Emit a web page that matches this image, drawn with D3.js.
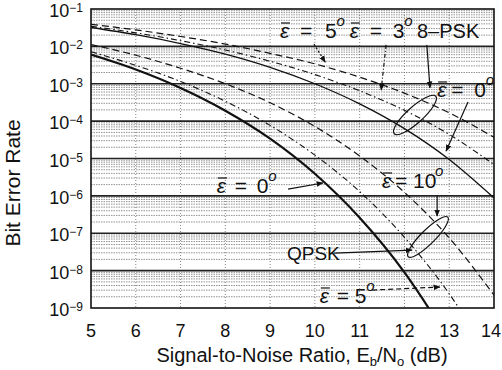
<!DOCTYPE html>
<html>
<head>
<meta charset="utf-8">
<script src="https://cdn.jsdelivr.net/npm/d3@7"></script>
<style>
    body { margin: 0; background: #fff; }
    svg text { font-family: "Liberation Sans", Arial, sans-serif; fill: #111; }
    .note { font-family: "Liberation Serif", "DejaVu Serif", serif; font-size: 21px; }
    .note .eps { font-style: italic; }
</style>
</head>
<body>
<div id="chart"></div>
<script>
// Eb/No values (dB)
const snr = [5, 6, 7, 8, 9, 10, 11, 12, 13, 14];

// QPSK, phase error 0, 5, 10 deg
const qpskE0 = [6.0e-3, 2.4e-3, 7.7e-4, 1.9e-4, 3.4e-5, 3.9e-6, 2.6e-7, 9.0e-9, 1.3e-10, 1e-12];
const qpskE5 = [7.2e-3, 3.1e-3, 1.15e-3, 3.4e-4, 7.7e-5, 1.23e-5, 1.3e-6, 7.8e-8, 2.4e-9, 3e-11];
const qpskE10 = [1.12e-2, 5.8e-3, 2.6e-3, 1.0e-3, 3.1e-4, 7.2e-5, 1.17e-5, 1.24e-6, 7.5e-8, 2.2e-9];

// 8-PSK, phase error 0, 3, 5 deg
const psk8E0 = [3.2e-2, 2.05e-2, 1.19e-2, 6.2e-3, 2.75e-3, 1.0e-3, 2.9e-4, 6.3e-5, 9.4e-6, 8.8e-7];
const psk8E3 = [3.45e-2, 2.3e-2, 1.42e-2, 8.0e-3, 4.0e-3, 1.76e-3, 6.5e-4, 1.94e-4, 4.4e-5, 6.9e-6];
const psk8E5 = [3.9e-2, 2.76e-2, 1.84e-2, 1.15e-2, 6.5e-3, 3.4e-3, 1.5e-3, 5.6e-4, 1.67e-4, 3.7e-5];

// tick labels
const xTicks = [5, 6, 7, 8, 9, 10, 11, 12, 13, 14];
const yExps = [-1, -2, -3, -4, -5, -6, -7, -8, -9];

const margin = { top: 9, right: 8, bottom: 62, left: 91 };
const width = 502 - margin.left - margin.right;
const height = 370 - margin.top - margin.bottom;

const root = d3.select("#chart")
    .append("svg")
    .attr("width", 502)
    .attr("height", 370);

const svg = root.append("g")
    .attr("transform", `translate(${margin.left}, ${margin.top})`);

const x = d3.scaleLinear().domain([5, 14]).range([0, width]);
const y = d3.scaleLog().domain([1e-9, 1e-1]).range([height, 0]);

// minor horizontal grid (2..9 x 10^k)
const minor = [];
for (let k = -9; k < -1; k++) {
    for (let m = 2; m <= 9; m++) minor.push(m * Math.pow(10, k));
}
svg.append("g")
    .selectAll("line")
    .data(minor)
    .join("line")
    .attr("x1", 0).attr("x2", width)
    .attr("y1", d => y(d)).attr("y2", d => y(d))
    .attr("stroke", "#777")
    .attr("stroke-width", 0.8)
    .attr("stroke-dasharray", "1.5,1");

// vertical dotted grid
svg.append("g")
    .selectAll("line")
    .data(xTicks.slice(1, -1))
    .join("line")
    .attr("x1", d => x(d)).attr("x2", d => x(d))
    .attr("y1", 0).attr("y2", height)
    .attr("stroke", "#666")
    .attr("stroke-width", 0.8)
    .attr("stroke-dasharray", "1,2");

// decade lines
svg.append("g")
    .selectAll("line")
    .data(yExps.slice(1, -1))
    .join("line")
    .attr("x1", 0).attr("x2", width)
    .attr("y1", d => y(Math.pow(10, d))).attr("y2", d => y(Math.pow(10, d)))
    .attr("stroke", "#222")
    .attr("stroke-width", 1.6);

// curves
svg.append("clipPath").attr("id", "clip")
    .append("rect").attr("width", width).attr("height", height);

const series = [
    { values: psk8E5, dash: "7,4", w: 1.2 },
    { values: psk8E3, dash: "6,3,1.5,3", w: 1.1 },
    { values: psk8E0, dash: null, w: 1.3 },
    { values: qpskE10, dash: "7,4", w: 1.2 },
    { values: qpskE5, dash: "6,3,1.5,3", w: 1.1 },
    { values: qpskE0, dash: null, w: 2.2 }
];

const line = d3.line()
    .curve(d3.curveMonotoneX)
    .x(d => x(d[0]))
    .y(d => y(d[1]));

svg.append("g")
    .attr("clip-path", "url(#clip)")
    .selectAll("path")
    .data(series)
    .join("path")
    .attr("fill", "none")
    .attr("stroke", "#111")
    .attr("stroke-width", d => d.w)
    .attr("stroke-dasharray", d => d.dash)
    .attr("d", d => line(snr.map((s, i) => [s, d.values[i]])));

// frame
svg.append("rect")
    .attr("width", width).attr("height", height)
    .attr("fill", "none").attr("stroke", "#111").attr("stroke-width", 1.6);

// y tick labels
const yl = svg.append("g").selectAll("text")
    .data(yExps)
    .join("text")
    .attr("font-size", 18)
    .attr("x", -8)
    .attr("y", d => y(Math.pow(10, d)) + 8)
    .attr("text-anchor", "end");
yl.append("tspan").text("10");
yl.append("tspan").attr("dy", -5).attr("font-size", 12).text(d => "\u2212" + (-d));

// x tick labels (last one nudged in so it stays inside the page)
svg.append("g").selectAll("text")
    .data(xTicks)
    .join("text")
    .attr("font-size", 18)
    .attr("x", d => Math.min(x(d), width - 3))
    .attr("y", height + 29)
    .attr("text-anchor", "middle")
    .text(d => d);

// x title
const xt = root.append("text")
    .attr("font-size", 20)
    .attr("x", 302)
    .attr("y", 362)
    .attr("text-anchor", "middle");
xt.append("tspan").text("Signal-to-Noise Ratio, E");
xt.append("tspan").attr("dy", 4).attr("font-size", 13).text("b");
xt.append("tspan").attr("dy", -4).text("/N");
xt.append("tspan").attr("dy", 4).attr("font-size", 13).text("o");
xt.append("tspan").attr("dy", -4).text(" (dB)");

// y title
root.append("text")
    .attr("font-size", 21)
    .attr("transform", "translate(20, 183) rotate(-90)")
    .attr("text-anchor", "middle")
    .text("Bit Error Rate");

// annotations, positioned in data units
const P = (sx, e) => [x(sx), y(Math.pow(10, e))];

root.append("defs").append("marker")
    .attr("id", "arr")
    .attr("viewBox", "0 0 10 10")
    .attr("refX", 9).attr("refY", 5)
    .attr("markerWidth", 7).attr("markerHeight", 7)
    .attr("markerUnits", "userSpaceOnUse")
    .attr("orient", "auto")
    .append("path").attr("d", "M0,1L10,5L0,9Z").attr("fill", "#111");

function eps(sx, e, deg, gEq, gNum) {
    const [px, py] = P(sx, e);
    const g = svg.append("g").attr("class", "note");
    g.append("text").attr("class", "eps").attr("x", px).attr("y", py).text("\u03b5");
    g.append("line")
        .attr("x1", px + 1).attr("x2", px + 10)
        .attr("y1", py - 15).attr("y2", py - 15)
        .attr("stroke", "#111").attr("stroke-width", 1.2);
    g.append("text").attr("x", px + gEq).attr("y", py).text("=");
    g.append("text").attr("x", px + gNum).attr("y", py).text(deg);
    g.append("text").attr("class", "eps")
        .attr("x", px + gNum + String(deg).length * 10.5 + 1)
        .attr("y", py - 12).attr("font-size", 15).text("o");
}

function arrow(a, b, dash) {
    svg.append("line")
        .attr("x1", a[0]).attr("y1", a[1]).attr("x2", b[0]).attr("y2", b[1])
        .attr("stroke", "#111").attr("stroke-width", 1.2)
        .attr("stroke-dasharray", dash || null)
        .attr("marker-end", "url(#arr)");
}

function ellipse(sx, e, rx, ry, rot) {
    const [px, py] = P(sx, e);
    svg.append("ellipse")
        .attr("cx", px).attr("cy", py).attr("rx", rx).attr("ry", ry)
        .attr("transform", `rotate(${rot}, ${px}, ${py})`)
        .attr("fill", "none").attr("stroke", "#111").attr("stroke-width", 1.2);
}

// 8-PSK group
eps(9.22, -1.776, 5, 20, 45);
eps(10.78, -1.776, 3, 20, 43);
svg.append("text").attr("font-size", 20)
    .attr("x", x(12.28)).attr("y", y(Math.pow(10, -1.776))).text("8\u2013PSK");
arrow(P(9.98, -1.94), P(10.23, -2.42), "2,2");
arrow(P(11.59, -1.96), P(11.48, -3.17), "4,2,1,2");
arrow(P(12.5, -1.96), P(12.57, -3.11));
eps(12.73, -3.354, 0, 14, 37);
ellipse(12.235, -3.836, 28, 8, -42);
arrow(P(13.42, -3.49), P(12.93, -4.8));

// QPSK group
eps(7.81, -5.923, 0, 18, 40);
arrow(P(9.4, -5.82), P(10.18, -5.655));
eps(11.5, -5.789, 10, 13, 31);
arrow(P(12.73, -6.0), P(12.73, -6.54));
svg.append("text").attr("font-size", 19)
    .attr("x", x(9.377)).attr("y", y(Math.pow(10, -7.716))).text("QPSK");
arrow(P(10.43, -7.53), P(12.17, -7.45));
ellipse(12.526, -7.1, 28, 7, -45);
eps(10.11, -8.866, 5, 17, 35);
arrow(P(11.28, -8.52), P(12.79, -8.44), "5,3");
</script>
</body>
</html>
